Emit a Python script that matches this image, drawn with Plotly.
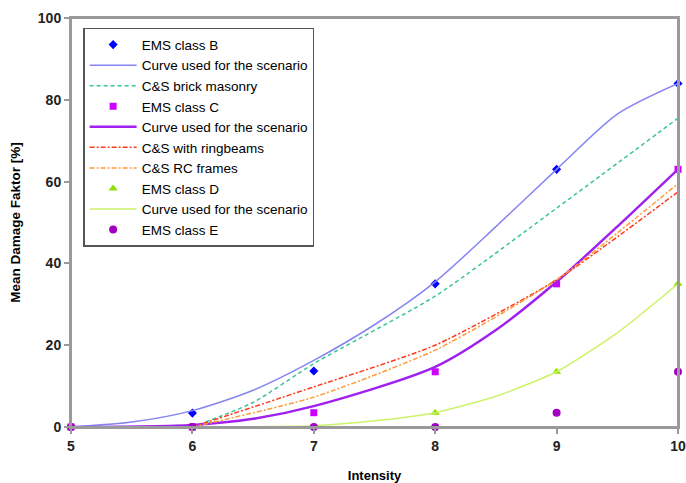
import plotly.graph_objects as go

# EMS observed points
ems_x = [5, 6, 7, 8, 9, 10]
ems_b = [0, 3.4, 13.7, 35, 63, 84]
ems_c = [0, 0, 3.5, 13.5, 35, 63]
ems_d = [0, 0, 0, 3.5, 13.5, 35]
ems_e = [0, 0, 0, 0, 3.5, 13.5]

# Curves used for the scenario
curve_b_x = [5, 5.5, 6, 6.5, 7, 7.5, 8, 8.5, 9, 9.5, 10]
curve_b_y = [0, 1.2, 4, 9, 16.3, 25, 35.5, 49, 63, 76.5, 84]
curve_c_x = [5, 6, 6.5, 7, 8, 8.5, 9, 9.5, 10]
curve_c_y = [0, 0.5, 2, 5.1, 14.7, 23.7, 35.5, 49, 63]
curve_d_x = [5, 6, 7, 7.5, 8, 8.5, 9, 9.5, 10]
curve_d_y = [0, 0, 0.3, 1.5, 3.5, 7.5, 13.5, 23, 35]

# C&S curves
cs_x = [6, 6.5, 7, 8, 9, 10]
cs_brick = [0, 6, 15.5, 32, 53.5, 75.5]
cs_ring_x = [6, 7, 8, 9, 10]
cs_ring = [0, 9.8, 20, 36, 57.5]
cs_rc = [0, 7.3, 18.8, 36, 59.5]

x_ticks = [5, 6, 7, 8, 9, 10]
y_ticks = [0, 20, 40, 60, 80, 100]

fig = go.Figure()

def line(x, y, name, color, width=1.5, dash="solid", smoothing=0.8):
    fig.add_trace(go.Scatter(x=x, y=y, mode="lines", name=name,
                             line=dict(color=color, width=width, dash=dash,
                                       shape="spline", smoothing=smoothing),
                             cliponaxis=False))

def pts(x, y, name, color, symbol, size):
    fig.add_trace(go.Scatter(x=x, y=y, mode="markers", name=name,
                             marker=dict(color=color, symbol=symbol, size=size,
                                         line=dict(width=0)),
                             cliponaxis=False))

pts(ems_x, ems_b, "EMS class B", "#0000ff", "diamond", 7)
line(curve_b_x, curve_b_y, "Curve used for the scenario", "#8585f2", 1.5, "solid", 0.75)
line(cs_x, cs_brick, "C&S brick masonry", "#3cc49a", 1.5, "4px,3px", 0.6)
pts(ems_x, ems_c, "EMS class C", "#cc00ff", "square", 7)
line(curve_c_x, curve_c_y, "Curve used for the scenario", "#a020f0", 2.5)
line(cs_ring_x, cs_ring, "C&S with ringbeams", "#ff3a1a", 1.5, "5px,2px,2px,2px", 0.6)
line(cs_ring_x, cs_rc, "C&S RC frames", "#ff9a3a", 1.5, "5px,2px,2px,2px", 0.6)
pts(ems_x, ems_d, "EMS class D", "#8ee000", "triangle-up", 8)
line(curve_d_x, curve_d_y, "Curve used for the scenario", "#ccf26a", 1.5, "solid", 0.6)
pts(ems_x, ems_e, "EMS class E", "#a000c0", "circle", 8)

axis_common = dict(showline=True, mirror=True, linecolor="#9a9a9a", linewidth=2,
                   showgrid=False, zeroline=False, ticks="outside", ticklen=5,
                   tickcolor="#9a9a9a", tickwidth=1.5, automargin=False,
                   tickfont=dict(family="Liberation Sans", size=14, color="#222",
                                 weight="bold"))

fig.update_layout(
    width=686, height=483,
    margin=dict(l=71, r=8, t=18, b=56),
    paper_bgcolor="white", plot_bgcolor="white",
    font=dict(family="Liberation Sans", color="black"),
    xaxis=dict(range=[5, 10], tickvals=x_ticks, ticktext=[str(v) for v in x_ticks],
               title=dict(text="<b>Intensity</b>", font=dict(size=13), standoff=18),
               **axis_common),
    yaxis=dict(range=[0, 100], tickvals=y_ticks, ticktext=[str(v) for v in y_ticks],
               title=dict(text="<b>Mean Damage Faktor [%]</b>", font=dict(size=13.5), standoff=14),
               **axis_common),
    legend=dict(x=0.02, y=0.976, xanchor="left", yanchor="top",
                bgcolor="white", bordercolor="#555", borderwidth=1.5,
                font=dict(size=13.5, color="black"), tracegroupgap=0,
                itemwidth=47),
    shapes=[dict(type="rect", xref="paper", yref="paper", x0=0, y0=0, x1=1, y1=1,
                 line=dict(color="#9a9a9a", width=2), layer="above")],
    showlegend=True,
)

fig.write_html("out.html", config={"displayModeBar": False},
               post_script="document.body.style.margin='0px';document.body.style.overflow='hidden';")
